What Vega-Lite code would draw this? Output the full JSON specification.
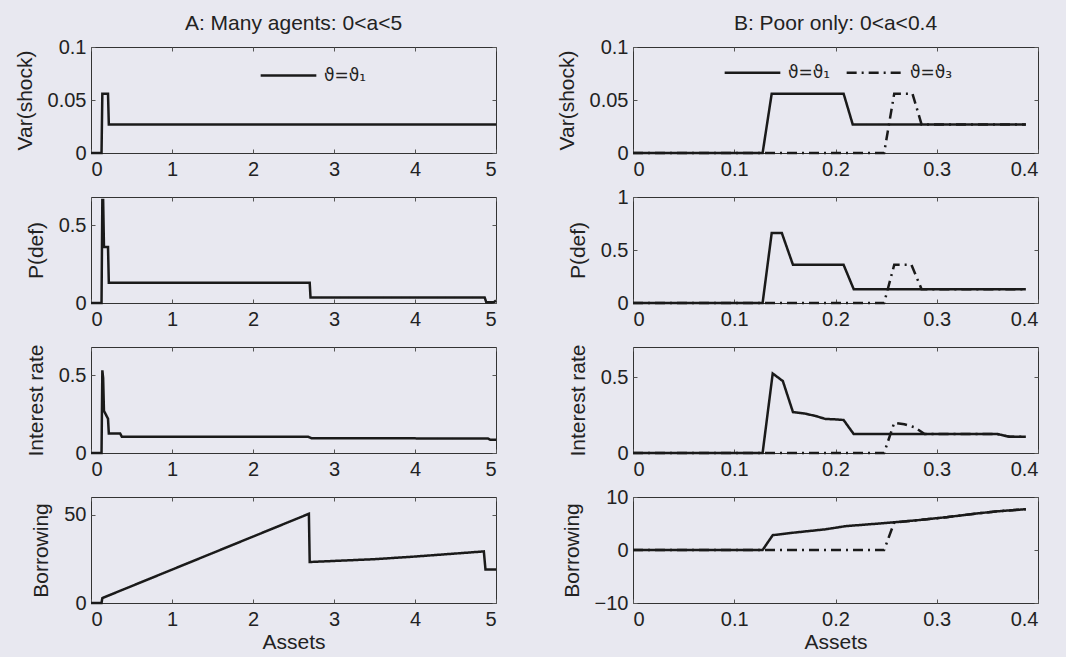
{
  "$schema": "https://vega.github.io/schema/vega-lite/v6.json",
  "background": "#e8e8f0",
  "padding": {"left": 13, "top": 12, "right": 28, "bottom": 6},
  "config": {
    "font": "Liberation Sans",
    "view": {"stroke": "#333", "strokeWidth": 1},
    "axis": {"labelFont": "Liberation Sans", "labelFontSize": 20, "labelColor": "#222", "titleFont": "Liberation Sans", "titleFontSize": 21, "titleFontWeight": "normal", "titleColor": "#222", "ticks": false, "domain": false, "grid": true, "gridColor": "#555", "gridOpacity": 1, "gridWidth": 1, "labelPadding": 6, "titlePadding": 2},
    "axisX": {"gridDash": [4, 98, 4]},
    "axisY": {"gridDash": [4, 397, 4], "labelPadding": 5, "titlePadding": 12},
    "title": {"font": "Liberation Sans", "fontSize": 21, "fontWeight": "normal", "color": "#222", "offset": 3, "baseline": "alphabetic", "anchor": "middle", "frame": "group"},
    "legend": {"orient": "none", "direction": "horizontal", "symbolType": "stroke", "symbolSize": 3100, "symbolStrokeWidth": 2.5, "symbolStrokeColor": "#1a1a1a", "labelFont": "DejaVu Sans", "labelFontSize": 17, "labelColor": "#222", "labelOffset": 6, "columnPadding": 10, "padding": 0, "title": null},
    "line": {"color": "#1a1a1a", "strokeWidth": 2.5}
  },
  "datasets": {
    "A": [
      {"k": "v", "s": "ϑ=ϑ₁", "x": 0, "y": 0},
      {"k": "v", "s": "ϑ=ϑ₁", "x": 0.13, "y": 0},
      {"k": "v", "s": "ϑ=ϑ₁", "x": 0.14, "y": 0.056},
      {"k": "v", "s": "ϑ=ϑ₁", "x": 0.21, "y": 0.056},
      {"k": "v", "s": "ϑ=ϑ₁", "x": 0.22, "y": 0.027},
      {"k": "v", "s": "ϑ=ϑ₁", "x": 5, "y": 0.027},
      {"k": "p", "s": "ϑ=ϑ₁", "x": 0, "y": 0},
      {"k": "p", "s": "ϑ=ϑ₁", "x": 0.13, "y": 0},
      {"k": "p", "s": "ϑ=ϑ₁", "x": 0.14, "y": 0.66},
      {"k": "p", "s": "ϑ=ϑ₁", "x": 0.15, "y": 0.66},
      {"k": "p", "s": "ϑ=ϑ₁", "x": 0.16, "y": 0.36},
      {"k": "p", "s": "ϑ=ϑ₁", "x": 0.21, "y": 0.36},
      {"k": "p", "s": "ϑ=ϑ₁", "x": 0.22, "y": 0.13},
      {"k": "p", "s": "ϑ=ϑ₁", "x": 2.7, "y": 0.13},
      {"k": "p", "s": "ϑ=ϑ₁", "x": 2.71, "y": 0.035},
      {"k": "p", "s": "ϑ=ϑ₁", "x": 4.86, "y": 0.035},
      {"k": "p", "s": "ϑ=ϑ₁", "x": 4.88, "y": 0.005},
      {"k": "p", "s": "ϑ=ϑ₁", "x": 4.97, "y": 0.005},
      {"k": "p", "s": "ϑ=ϑ₁", "x": 5, "y": 0.015},
      {"k": "r", "s": "ϑ=ϑ₁", "x": 0, "y": 0},
      {"k": "r", "s": "ϑ=ϑ₁", "x": 0.13, "y": 0},
      {"k": "r", "s": "ϑ=ϑ₁", "x": 0.14, "y": 0.53},
      {"k": "r", "s": "ϑ=ϑ₁", "x": 0.15, "y": 0.48},
      {"k": "r", "s": "ϑ=ϑ₁", "x": 0.16, "y": 0.27},
      {"k": "r", "s": "ϑ=ϑ₁", "x": 0.18, "y": 0.25},
      {"k": "r", "s": "ϑ=ϑ₁", "x": 0.21, "y": 0.22},
      {"k": "r", "s": "ϑ=ϑ₁", "x": 0.22, "y": 0.125},
      {"k": "r", "s": "ϑ=ϑ₁", "x": 0.36, "y": 0.125},
      {"k": "r", "s": "ϑ=ϑ₁", "x": 0.38, "y": 0.105},
      {"k": "r", "s": "ϑ=ϑ₁", "x": 2.68, "y": 0.105},
      {"k": "r", "s": "ϑ=ϑ₁", "x": 2.72, "y": 0.095},
      {"k": "r", "s": "ϑ=ϑ₁", "x": 4.9, "y": 0.093},
      {"k": "r", "s": "ϑ=ϑ₁", "x": 4.93, "y": 0.085},
      {"k": "r", "s": "ϑ=ϑ₁", "x": 5, "y": 0.085},
      {"k": "b", "s": "ϑ=ϑ₁", "x": 0, "y": 0},
      {"k": "b", "s": "ϑ=ϑ₁", "x": 0.13, "y": 0},
      {"k": "b", "s": "ϑ=ϑ₁", "x": 0.14, "y": 2.8},
      {"k": "b", "s": "ϑ=ϑ₁", "x": 2.69, "y": 50.5},
      {"k": "b", "s": "ϑ=ϑ₁", "x": 2.7, "y": 23.2},
      {"k": "b", "s": "ϑ=ϑ₁", "x": 3.0, "y": 23.8},
      {"k": "b", "s": "ϑ=ϑ₁", "x": 3.5, "y": 24.8},
      {"k": "b", "s": "ϑ=ϑ₁", "x": 4.0, "y": 26.3},
      {"k": "b", "s": "ϑ=ϑ₁", "x": 4.5, "y": 28.0},
      {"k": "b", "s": "ϑ=ϑ₁", "x": 4.85, "y": 29.2},
      {"k": "b", "s": "ϑ=ϑ₁", "x": 4.87, "y": 19},
      {"k": "b", "s": "ϑ=ϑ₁", "x": 5, "y": 19}
    ],
    "B": [
      {"k": "v", "s": "ϑ=ϑ₁", "x": 0, "y": 0},
      {"k": "v", "s": "ϑ=ϑ₁", "x": 0.128, "y": 0},
      {"k": "v", "s": "ϑ=ϑ₁", "x": 0.137, "y": 0.056},
      {"k": "v", "s": "ϑ=ϑ₁", "x": 0.208, "y": 0.056},
      {"k": "v", "s": "ϑ=ϑ₁", "x": 0.217, "y": 0.027},
      {"k": "v", "s": "ϑ=ϑ₁", "x": 0.388, "y": 0.027},
      {"k": "v", "s": "ϑ=ϑ₃", "x": 0, "y": 0},
      {"k": "v", "s": "ϑ=ϑ₃", "x": 0.248, "y": 0},
      {"k": "v", "s": "ϑ=ϑ₃", "x": 0.258, "y": 0.056},
      {"k": "v", "s": "ϑ=ϑ₃", "x": 0.276, "y": 0.056},
      {"k": "v", "s": "ϑ=ϑ₃", "x": 0.285, "y": 0.027},
      {"k": "v", "s": "ϑ=ϑ₃", "x": 0.388, "y": 0.027},
      {"k": "p", "s": "ϑ=ϑ₁", "x": 0, "y": 0},
      {"k": "p", "s": "ϑ=ϑ₁", "x": 0.128, "y": 0},
      {"k": "p", "s": "ϑ=ϑ₁", "x": 0.137, "y": 0.66},
      {"k": "p", "s": "ϑ=ϑ₁", "x": 0.147, "y": 0.66},
      {"k": "p", "s": "ϑ=ϑ₁", "x": 0.158, "y": 0.36},
      {"k": "p", "s": "ϑ=ϑ₁", "x": 0.208, "y": 0.36},
      {"k": "p", "s": "ϑ=ϑ₁", "x": 0.218, "y": 0.13},
      {"k": "p", "s": "ϑ=ϑ₁", "x": 0.388, "y": 0.13},
      {"k": "p", "s": "ϑ=ϑ₃", "x": 0, "y": 0},
      {"k": "p", "s": "ϑ=ϑ₃", "x": 0.248, "y": 0},
      {"k": "p", "s": "ϑ=ϑ₃", "x": 0.258, "y": 0.36},
      {"k": "p", "s": "ϑ=ϑ₃", "x": 0.275, "y": 0.36},
      {"k": "p", "s": "ϑ=ϑ₃", "x": 0.285, "y": 0.13},
      {"k": "p", "s": "ϑ=ϑ₃", "x": 0.388, "y": 0.13},
      {"k": "r", "s": "ϑ=ϑ₁", "x": 0, "y": 0},
      {"k": "r", "s": "ϑ=ϑ₁", "x": 0.128, "y": 0},
      {"k": "r", "s": "ϑ=ϑ₁", "x": 0.138, "y": 0.525},
      {"k": "r", "s": "ϑ=ϑ₁", "x": 0.148, "y": 0.475},
      {"k": "r", "s": "ϑ=ϑ₁", "x": 0.158, "y": 0.27},
      {"k": "r", "s": "ϑ=ϑ₁", "x": 0.17, "y": 0.26},
      {"k": "r", "s": "ϑ=ϑ₁", "x": 0.18, "y": 0.245},
      {"k": "r", "s": "ϑ=ϑ₁", "x": 0.19, "y": 0.225},
      {"k": "r", "s": "ϑ=ϑ₁", "x": 0.2, "y": 0.222},
      {"k": "r", "s": "ϑ=ϑ₁", "x": 0.208, "y": 0.218},
      {"k": "r", "s": "ϑ=ϑ₁", "x": 0.218, "y": 0.125},
      {"k": "r", "s": "ϑ=ϑ₁", "x": 0.36, "y": 0.125},
      {"k": "r", "s": "ϑ=ϑ₁", "x": 0.372, "y": 0.107},
      {"k": "r", "s": "ϑ=ϑ₁", "x": 0.388, "y": 0.107},
      {"k": "r", "s": "ϑ=ϑ₃", "x": 0, "y": 0},
      {"k": "r", "s": "ϑ=ϑ₃", "x": 0.248, "y": 0},
      {"k": "r", "s": "ϑ=ϑ₃", "x": 0.258, "y": 0.2},
      {"k": "r", "s": "ϑ=ϑ₃", "x": 0.268, "y": 0.19},
      {"k": "r", "s": "ϑ=ϑ₃", "x": 0.278, "y": 0.17},
      {"k": "r", "s": "ϑ=ϑ₃", "x": 0.288, "y": 0.125},
      {"k": "r", "s": "ϑ=ϑ₃", "x": 0.36, "y": 0.125},
      {"k": "r", "s": "ϑ=ϑ₃", "x": 0.372, "y": 0.107},
      {"k": "r", "s": "ϑ=ϑ₃", "x": 0.388, "y": 0.107},
      {"k": "b", "s": "ϑ=ϑ₁", "x": 0, "y": 0},
      {"k": "b", "s": "ϑ=ϑ₁", "x": 0.128, "y": 0},
      {"k": "b", "s": "ϑ=ϑ₁", "x": 0.138, "y": 2.8},
      {"k": "b", "s": "ϑ=ϑ₁", "x": 0.16, "y": 3.3},
      {"k": "b", "s": "ϑ=ϑ₁", "x": 0.19, "y": 3.9},
      {"k": "b", "s": "ϑ=ϑ₁", "x": 0.21, "y": 4.5},
      {"k": "b", "s": "ϑ=ϑ₁", "x": 0.25, "y": 5.1},
      {"k": "b", "s": "ϑ=ϑ₁", "x": 0.28, "y": 5.6},
      {"k": "b", "s": "ϑ=ϑ₁", "x": 0.31, "y": 6.2},
      {"k": "b", "s": "ϑ=ϑ₁", "x": 0.34, "y": 6.9},
      {"k": "b", "s": "ϑ=ϑ₁", "x": 0.36, "y": 7.3},
      {"k": "b", "s": "ϑ=ϑ₁", "x": 0.388, "y": 7.7},
      {"k": "b", "s": "ϑ=ϑ₃", "x": 0, "y": 0},
      {"k": "b", "s": "ϑ=ϑ₃", "x": 0.248, "y": 0},
      {"k": "b", "s": "ϑ=ϑ₃", "x": 0.258, "y": 5.2},
      {"k": "b", "s": "ϑ=ϑ₃", "x": 0.28, "y": 5.6},
      {"k": "b", "s": "ϑ=ϑ₃", "x": 0.31, "y": 6.2},
      {"k": "b", "s": "ϑ=ϑ₃", "x": 0.34, "y": 6.9},
      {"k": "b", "s": "ϑ=ϑ₃", "x": 0.36, "y": 7.3},
      {"k": "b", "s": "ϑ=ϑ₃", "x": 0.388, "y": 7.7}
    ]
  },
  "columns": 2,
  "bounds": "flush",
  "spacing": {"row": 44, "column": 137},
  "resolve": {"scale": {"strokeDash": "independent"}, "legend": {"strokeDash": "independent"}},
  "concat": [
    {
      "title": "A: Many agents: 0<a<5",
      "width": 405, "height": 106,
      "data": {"name": "A"},
      "transform": [{"filter": "datum.k === 'v'"}],
      "mark": {"type": "line", "color": "#1a1a1a", "strokeWidth": 2.5},
      "encoding": {
        "x": {"field": "x", "type": "quantitative", "scale": {"domain": [0, 5], "nice": false}, "axis": {"values": [0, 1, 2, 3, 4, 5], "labelExpr": "toString(datum.value)", "title": null}},
        "y": {"field": "y", "type": "quantitative", "scale": {"domain": [0, 0.1], "nice": false}, "axis": {"values": [0, 0.05, 0.1], "labelExpr": "toString(datum.value)", "title": "Var(shock)"}},
        "strokeDash": {"field": "s", "type": "nominal", "scale": {"domain": ["ϑ=ϑ₁"], "range": [[1, 0]]}, "legend": {"legendX": 168, "legendY": -1}}
      }
    },
    {
      "title": "B: Poor only: 0<a<0.4",
      "width": 405, "height": 106,
      "data": {"name": "B"},
      "transform": [{"filter": "datum.k === 'v'"}],
      "mark": {"type": "line", "color": "#1a1a1a", "strokeWidth": 2.5},
      "encoding": {
        "x": {"field": "x", "type": "quantitative", "scale": {"domain": [0, 0.4], "nice": false}, "axis": {"values": [0, 0.1, 0.2, 0.3, 0.4], "labelExpr": "toString(datum.value)", "title": null}},
        "y": {"field": "y", "type": "quantitative", "scale": {"domain": [0, 0.1], "nice": false}, "axis": {"values": [0, 0.05, 0.1], "labelExpr": "toString(datum.value)", "title": "Var(shock)"}},
        "strokeDash": {"field": "s", "type": "nominal", "scale": {"domain": ["ϑ=ϑ₁", "ϑ=ϑ₃"], "range": [[1, 0], [10, 5, 2, 5]]}, "legend": {"legendX": 90, "legendY": -4}}
      }
    },
    {
      "width": 405, "height": 106,
      "data": {"name": "A"},
      "transform": [{"filter": "datum.k === 'p'"}],
      "mark": {"type": "line", "color": "#1a1a1a", "strokeWidth": 2.5},
      "encoding": {
        "x": {"field": "x", "type": "quantitative", "scale": {"domain": [0, 5], "nice": false}, "axis": {"values": [0, 1, 2, 3, 4, 5], "labelExpr": "toString(datum.value)", "title": null}},
        "y": {"field": "y", "type": "quantitative", "scale": {"domain": [0, 0.68], "nice": false}, "axis": {"values": [0, 0.5], "labelExpr": "toString(datum.value)", "title": "P(def)"}},
        "strokeDash": {"field": "s", "type": "nominal", "scale": {"domain": ["ϑ=ϑ₁"], "range": [[1, 0]]}, "legend": null}
      }
    },
    {
      "width": 405, "height": 106,
      "data": {"name": "B"},
      "transform": [{"filter": "datum.k === 'p'"}],
      "mark": {"type": "line", "color": "#1a1a1a", "strokeWidth": 2.5},
      "encoding": {
        "x": {"field": "x", "type": "quantitative", "scale": {"domain": [0, 0.4], "nice": false}, "axis": {"values": [0, 0.1, 0.2, 0.3, 0.4], "labelExpr": "toString(datum.value)", "title": null}},
        "y": {"field": "y", "type": "quantitative", "scale": {"domain": [0, 1], "nice": false}, "axis": {"values": [0, 0.5, 1], "labelExpr": "toString(datum.value)", "title": "P(def)"}},
        "strokeDash": {"field": "s", "type": "nominal", "scale": {"domain": ["ϑ=ϑ₁", "ϑ=ϑ₃"], "range": [[1, 0], [10, 5, 2, 5]]}, "legend": null}
      }
    },
    {
      "width": 405, "height": 106,
      "data": {"name": "A"},
      "transform": [{"filter": "datum.k === 'r'"}],
      "mark": {"type": "line", "color": "#1a1a1a", "strokeWidth": 2.5},
      "encoding": {
        "x": {"field": "x", "type": "quantitative", "scale": {"domain": [0, 5], "nice": false}, "axis": {"values": [0, 1, 2, 3, 4, 5], "labelExpr": "toString(datum.value)", "title": null}},
        "y": {"field": "y", "type": "quantitative", "scale": {"domain": [0, 0.68], "nice": false}, "axis": {"values": [0, 0.5], "labelExpr": "toString(datum.value)", "title": "Interest rate"}},
        "strokeDash": {"field": "s", "type": "nominal", "scale": {"domain": ["ϑ=ϑ₁"], "range": [[1, 0]]}, "legend": null}
      }
    },
    {
      "width": 405, "height": 106,
      "data": {"name": "B"},
      "transform": [{"filter": "datum.k === 'r'"}],
      "mark": {"type": "line", "color": "#1a1a1a", "strokeWidth": 2.5},
      "encoding": {
        "x": {"field": "x", "type": "quantitative", "scale": {"domain": [0, 0.4], "nice": false}, "axis": {"values": [0, 0.1, 0.2, 0.3, 0.4], "labelExpr": "toString(datum.value)", "title": null}},
        "y": {"field": "y", "type": "quantitative", "scale": {"domain": [0, 0.7], "nice": false}, "axis": {"values": [0, 0.5], "labelExpr": "toString(datum.value)", "title": "Interest rate"}},
        "strokeDash": {"field": "s", "type": "nominal", "scale": {"domain": ["ϑ=ϑ₁", "ϑ=ϑ₃"], "range": [[1, 0], [10, 5, 2, 5]]}, "legend": null}
      }
    },
    {
      "width": 405, "height": 106,
      "data": {"name": "A"},
      "transform": [{"filter": "datum.k === 'b'"}],
      "mark": {"type": "line", "color": "#1a1a1a", "strokeWidth": 2.5},
      "encoding": {
        "x": {"field": "x", "type": "quantitative", "scale": {"domain": [0, 5], "nice": false}, "axis": {"values": [0, 1, 2, 3, 4, 5], "labelExpr": "toString(datum.value)", "title": "Assets"}},
        "y": {"field": "y", "type": "quantitative", "scale": {"domain": [0, 60], "nice": false}, "axis": {"values": [0, 50], "labelExpr": "toString(datum.value)", "title": "Borrowing"}},
        "strokeDash": {"field": "s", "type": "nominal", "scale": {"domain": ["ϑ=ϑ₁"], "range": [[1, 0]]}, "legend": null}
      }
    },
    {
      "width": 405, "height": 106,
      "data": {"name": "B"},
      "transform": [{"filter": "datum.k === 'b'"}],
      "mark": {"type": "line", "color": "#1a1a1a", "strokeWidth": 2.5},
      "encoding": {
        "x": {"field": "x", "type": "quantitative", "scale": {"domain": [0, 0.4], "nice": false}, "axis": {"values": [0, 0.1, 0.2, 0.3, 0.4], "labelExpr": "toString(datum.value)", "title": "Assets"}},
        "y": {"field": "y", "type": "quantitative", "scale": {"domain": [-10, 10], "nice": false}, "axis": {"values": [-10, 0, 10], "labelExpr": "datum.value < 0 ? '−' + toString(-datum.value) : toString(datum.value)", "title": "Borrowing"}},
        "strokeDash": {"field": "s", "type": "nominal", "scale": {"domain": ["ϑ=ϑ₁", "ϑ=ϑ₃"], "range": [[1, 0], [10, 5, 2, 5]]}, "legend": null}
      }
    }
  ]
}
